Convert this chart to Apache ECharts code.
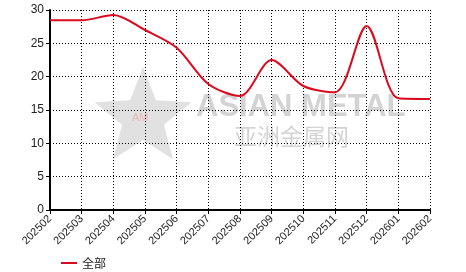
<!DOCTYPE html>
<html>
<head>
<meta charset="utf-8">
<script src="https://cdn.jsdelivr.net/npm/echarts@6/dist/echarts.min.js"></script>
<style>
html,body{margin:0;padding:0;background:#fff;}
#chart{width:466px;height:272px;}
</style>
</head>
<body>
<div id="chart"></div>
<script>
var categories = ['202502','202503','202504','202505','202506','202507','202508','202509','202510','202511','202512','202601','202602'];
var seriesName = '全部';
var values = [28.45, 28.45, 29.25, 27.0, 24.35, 18.9, 17.1, 22.5, 18.6, 17.65, 27.6, 16.75, 16.65];
var yTicks = {min: 0, max: 30, interval: 5};

var chart = echarts.init(document.getElementById('chart'), null, {renderer: 'canvas'});

// decorative watermark star
function starPoints(cx, cy, R, r) {
  var pts = [];
  for (var i = 0; i < 10; i++) {
    var rad = (i % 2 === 0) ? R : r;
    var a = -Math.PI / 2 + i * Math.PI / 5;
    pts.push([cx + rad * Math.cos(a), cy + rad * Math.sin(a)]);
  }
  return pts;
}

var option = {
  animation: false,
  backgroundColor: '#ffffff',
  graphic: [
    {type: 'polygon', z: -10, silent: true, shape: {points: starPoints(143, 118, 51, 22)},
     style: {fill: 'rgba(205,205,205,0.6)'}},
    {type: 'text', z: -10, silent: true, left: 132, top: 112,
     style: {text: 'AM', fill: 'rgba(240,140,140,0.5)', font: '11px Arial'}},
    {type: 'text', z: -10, silent: true, left: 196, top: 92,
     style: {text: 'ASIAN METAL', fill: 'rgba(200,200,200,0.8)', font: 'bold 31px "Liberation Sans", Arial'}},
    {type: 'text', z: -10, silent: true, left: 234, top: 125,
     style: {text: '亚洲金属网', fill: 'rgba(200,200,200,0.8)', font: '23px "Noto Sans CJK SC"'}}
  ],
  grid: {left: 50, right: 36, top: 10, bottom: 62, containLabel: false},
  legend: {
    data: [seriesName],
    left: 56, top: 252,
    icon: 'rect', itemWidth: 16, itemHeight: 2, itemGap: 10,
    textStyle: {fontSize: 12, color: '#222', fontFamily: '"Noto Sans CJK SC", sans-serif'}
  },
  xAxis: {
    type: 'category',
    data: categories,
    boundaryGap: false,
    axisLine: {lineStyle: {color: '#000', width: 2}},
    axisTick: {show: true, alignWithLabel: true, length: 4, lineStyle: {color: '#000', width: 1}},
    axisLabel: {rotate: 45, fontSize: 11, color: '#222', fontFamily: '"Liberation Sans", Arial', margin: 7, interval: 0},
    splitLine: {show: true, lineStyle: {color: '#000', type: [1, 2], width: 1}}
  },
  yAxis: {
    type: 'value',
    min: yTicks.min, max: yTicks.max, interval: yTicks.interval,
    axisLine: {show: true, lineStyle: {color: '#000', width: 2}},
    axisTick: {show: true, length: 4, lineStyle: {color: '#000', width: 1}},
    axisLabel: {fontSize: 12, color: '#222', fontFamily: '"Liberation Sans", Arial', margin: 6},
    splitLine: {show: true, lineStyle: {color: '#000', type: [1, 2], width: 1}}
  },
  series: [{
    name: seriesName,
    type: 'line',
    data: values,
    smooth: 0.3,
    showSymbol: false,
    symbol: 'none',
    lineStyle: {color: '#dc0a1e', width: 2},
    itemStyle: {color: '#dc0a1e'},
    z: 5
  }]
};
chart.setOption(option);
</script>
</body>
</html>
